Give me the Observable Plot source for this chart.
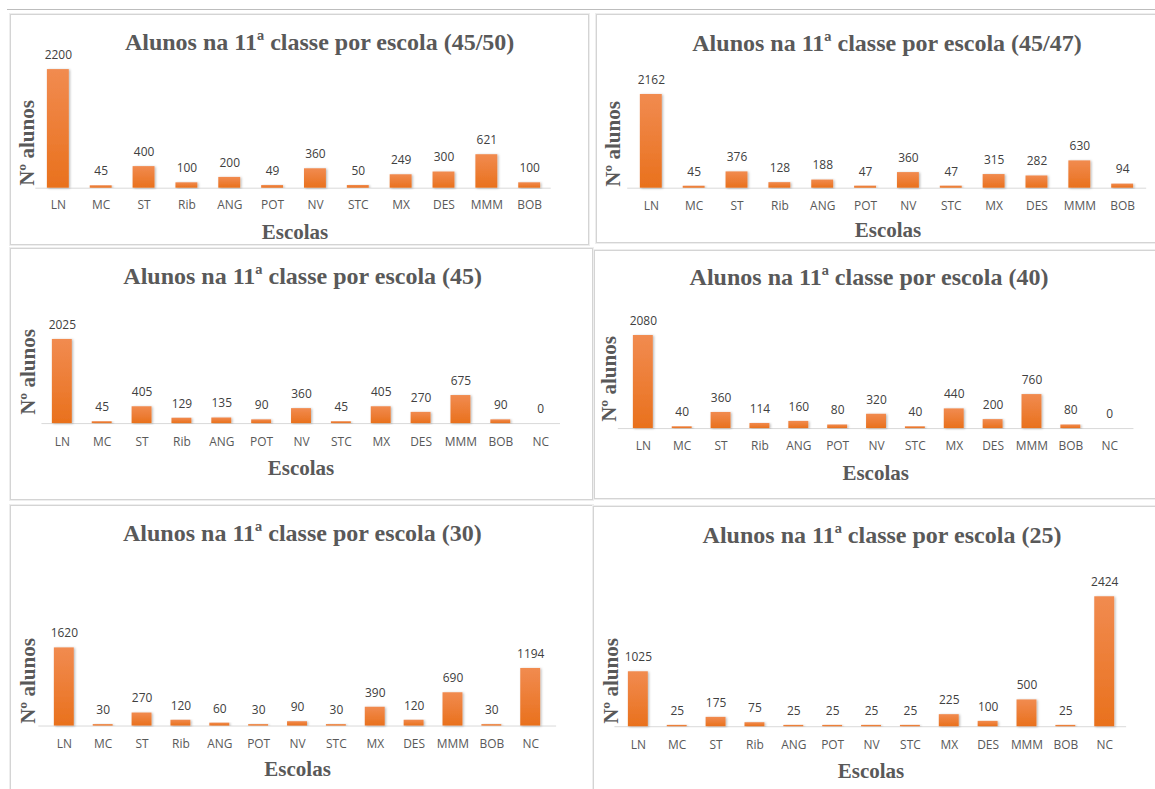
<!DOCTYPE html>
<html>
<head>
<meta charset="utf-8">
<script src="https://cdn.jsdelivr.net/npm/d3@7"></script>
<script src="https://cdn.jsdelivr.net/npm/@observablehq/plot@0.6"></script>
<style>
  body { margin: 0; background: #fff; }
  #page { position: relative; width: 1155px; height: 789px; overflow: hidden; background: #fff; }
  .topo { position: absolute; left: 7px; top: 9px; width: 1160px; height: 0; border-top: 1px solid #bdbdbd; }
  .painel { position: absolute; box-sizing: border-box; border: 1px solid #d4d4d4; box-shadow: 0 0 0 1px #eeeeee; background: #fff; }
  .painel svg { position: absolute; left: 0; top: 0; overflow: visible; }
  .txt { position: absolute; white-space: nowrap; line-height: 1; font-family: "Liberation Serif", "Times New Roman", serif; font-weight: bold; color: #595959; transform: translate(-50%, -50%); }
  .rot { transform: translate(-50%, -50%) rotate(-90deg); }
</style>
</head>
<body>
<div id="page"><div class="topo"></div></div>
<script>
// Schools (categories) and number of 11th-grade students per school, one array per scenario
const escolas12 = ["LN", "MC", "ST", "Rib", "ANG", "POT", "NV", "STC", "MX", "DES", "MMM", "BOB"];
const escolas13 = ["LN", "MC", "ST", "Rib", "ANG", "POT", "NV", "STC", "MX", "DES", "MMM", "BOB", "NC"];

const alunos_45_50 = [2200, 45, 400, 100, 200, 49, 360, 50, 249, 300, 621, 100];
const alunos_45_47 = [2162, 45, 376, 128, 188, 47, 360, 47, 315, 282, 630, 94];
const alunos_45    = [2025, 45, 405, 129, 135, 90, 360, 45, 405, 270, 675, 90, 0];
const alunos_40    = [2080, 40, 360, 114, 160, 80, 320, 40, 440, 200, 760, 80, 0];
const alunos_30    = [1620, 30, 270, 120, 60, 30, 90, 30, 390, 120, 690, 30, 1194];
const alunos_25    = [1025, 25, 175, 75, 25, 25, 25, 25, 225, 100, 500, 25, 2424];

const titulos = [
  "Alunos na 11ª classe por escola (45/50)",
  "Alunos na 11ª classe por escola (45/47)",
  "Alunos na 11ª classe por escola (45)",
  "Alunos na 11ª classe por escola (40)",
  "Alunos na 11ª classe por escola (30)",
  "Alunos na 11ª classe por escola (25)"
];
const rotuloY = "Nº alunos";
const rotuloX = "Escolas";

// Page layout of the six panels (page pixel coordinates)
// box: [left, top, width, height]; faixa: x extent of the band scale; base: y of the zero line;
// k: pixels per student; tit/yl/xl: centres of title, y label and x label; tickY: centre of tick labels
const layout = [
  {box: [10, 14, 579, 231],  faixa: [34.4, 551.6],  base: 187.3, k: 0.0541, yMax: 2500, tit: [318.6, 40.8], yl: [26.4, 142],   xl: [294, 230.5],   tickY: 204},
  {box: [596, 14, 575, 229], faixa: [626.3, 1147.1], base: 187.3, k: 0.0435, yMax: 2500, tit: [886, 41.7],   yl: [611.6, 143],  xl: [887, 229],     tickY: 205},
  {box: [10, 248, 583, 252], faixa: [40.5, 560.9],  base: 422.7, k: 0.0417, yMax: 2500, tit: [301.7, 274.5], yl: [26.8, 371],  xl: [300, 466.7],   tickY: 441},
  {box: [594, 250, 575, 249], faixa: [616.9, 1134.3], base: 427.7, k: 0.0449, yMax: 2500, tit: [868, 276],   yl: [608, 378],    xl: [874.7, 471.7], tickY: 445},
  {box: [10, 505, 583, 300], faixa: [37.4, 557.0],  base: 725.3, k: 0.0484, yMax: 3000, tit: [301.4, 532],  yl: [26.8, 680],   xl: [296.6, 768.3], tickY: 742.7},
  {box: [593, 506, 575, 300], faixa: [613.5, 1127],  base: 726,   k: 0.0538, yMax: 3000, tit: [881, 533.5],  yl: [609.8, 680],  xl: [870, 770],     tickY: 744}
];

const series = [
  [escolas12, alunos_45_50],
  [escolas12, alunos_45_47],
  [escolas13, alunos_45],
  [escolas13, alunos_40],
  [escolas13, alunos_30],
  [escolas13, alunos_25]
];

const page = document.getElementById("page");
const capHalf = 4.3; // half the cap height of 12px tick labels

function addText(parent, text, x, y, size, rotate) {
  const el = document.createElement("div");
  el.className = "txt" + (rotate ? " rot" : "");
  el.textContent = text;
  el.style.left = x + "px";
  el.style.top = y + "px";
  el.style.fontSize = size + "px";
  parent.appendChild(el);
}

layout.forEach((L, i) => {
  const [bx, by, W, H] = L.box;
  const [escolas, valores] = series[i];
  const dados = escolas.map((e, j) => ({escola: e, n: valores[j]}));

  const painel = document.createElement("div");
  painel.className = "painel";
  painel.style.left = bx + "px";
  painel.style.top = by + "px";
  painel.style.width = W + "px";
  painel.style.height = H + "px";
  page.appendChild(painel);

  const base = L.base - by;
  const marginTop = base - L.yMax * L.k;
  const gradId = "laranja" + i;
  const sombraId = "sombra" + i;

  const svg = Plot.plot({
    width: W,
    height: H,
    marginLeft: L.faixa[0] - bx,
    marginRight: bx + W - L.faixa[1],
    marginTop,
    marginBottom: H - base,
    style: {fontFamily: "'Open Sans', sans-serif", fontSize: "12px", color: "#595959", background: "transparent", overflow: "visible"},
    x: {domain: escolas, paddingInner: 0.5, paddingOuter: 0.25, label: null},
    y: {domain: [0, L.yMax], axis: null},
    marks: [
      Plot.ruleY([0], {stroke: "#d9d9d9", strokeWidth: 1}),
      Plot.barY(dados, {x: "escola", y: "n", fill: `url(#${gradId})`, filter: d => d.n > 0}),
      Plot.text(dados, {x: "escola", y: "n", text: d => String(d.n), dy: -14.5, fill: "#404040", fontSize: 12}),
      Plot.axisX({tickSize: 0, tickPadding: (L.tickY - L.base) - capHalf, label: null, fontSize: 12})
    ]
  });

  // orange vertical gradient and soft shadow for the bars
  const ns = "http://www.w3.org/2000/svg";
  const defs = document.createElementNS(ns, "defs");
  defs.innerHTML = `
    <linearGradient id="${gradId}" x1="0" y1="0" x2="0" y2="1">
      <stop offset="0" stop-color="#f18b50"/>
      <stop offset="1" stop-color="#e9711d"/>
    </linearGradient>
    <filter id="${sombraId}" x="-30%" y="-10%" width="160%" height="120%">
      <feDropShadow dx="1.2" dy="0.6" stdDeviation="0.9" flood-color="#000" flood-opacity="0.28"/>
    </filter>`;
  svg.insertBefore(defs, svg.firstChild);
  svg.querySelectorAll("rect").forEach(r => r.setAttribute("filter", `url(#${sombraId})`));
  painel.appendChild(svg);

  addText(painel, titulos[i], L.tit[0] - bx, L.tit[1] - by, 24, false);
  addText(painel, rotuloY, L.yl[0] - bx, L.yl[1] - by, 21, true);
  addText(painel, rotuloX, L.xl[0] - bx, L.xl[1] - by, 21, false);
});
</script>
</body>
</html>
